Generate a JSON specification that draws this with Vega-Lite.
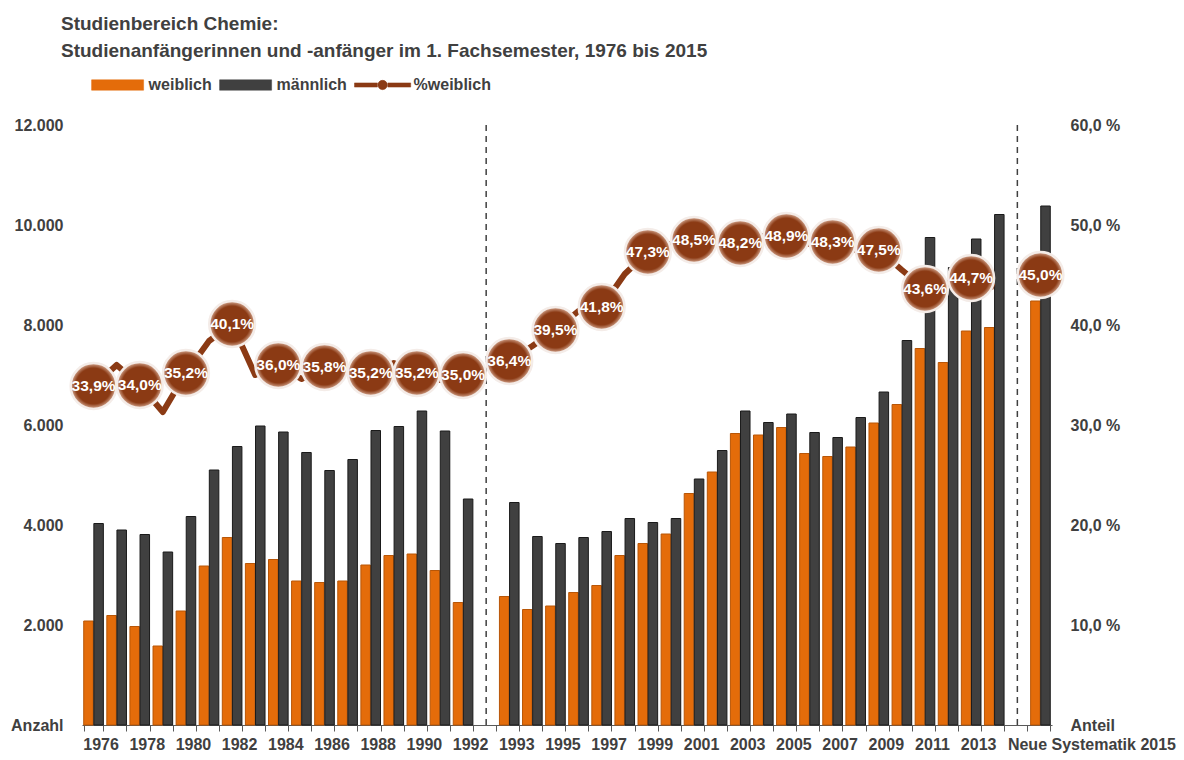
{
  "$schema": "https://vega.github.io/schema/vega-lite/v6.json",
  "width": 970,
  "height": 600,
  "autosize": "none",
  "padding": {"left": 82, "top": 125, "right": 132, "bottom": 35},
  "background": "white",
  "config": {
    "locale": {"number": {"decimal": ",", "thousands": ".", "grouping": [3], "currency": ["", " €"]}},
    "view": {"stroke": null},
    "axis": {"labelFont": "Liberation Sans", "labelFontSize": 16, "labelFontWeight": "bold", "labelColor": "#404040", "grid": false, "title": null}
  },
  "title": {
    "text": ["Studienbereich Chemie:", "Studienanfängerinnen und -anfänger im 1. Fachsemester, 1976 bis 2015"],
    "anchor": "start",
    "frame": "group",
    "font": "Liberation Sans",
    "fontSize": 19,
    "fontWeight": "bold",
    "color": "#404040",
    "lineHeight": 27,
    "dx": -21,
    "offset": 13
  },
  "data": {
    "values": [
      {"year": "1976", "weiblich": 2080, "männlich": 4030, "pct": 0.339, "phase": 1},
      {"year": "1977", "weiblich": 2190, "männlich": 3900, "pct": 0.360, "phase": 1},
      {"year": "1978", "weiblich": 1970, "männlich": 3810, "pct": 0.340, "phase": 1},
      {"year": "1979", "weiblich": 1580, "männlich": 3460, "pct": 0.313, "phase": 1},
      {"year": "1980", "weiblich": 2280, "männlich": 4170, "pct": 0.352, "phase": 1},
      {"year": "1981", "weiblich": 3180, "männlich": 5100, "pct": 0.384, "phase": 1},
      {"year": "1982", "weiblich": 3750, "männlich": 5570, "pct": 0.401, "phase": 1},
      {"year": "1983", "weiblich": 3230, "männlich": 5980, "pct": 0.350, "phase": 1},
      {"year": "1984", "weiblich": 3310, "männlich": 5860, "pct": 0.360, "phase": 1},
      {"year": "1985", "weiblich": 2880, "männlich": 5450, "pct": 0.346, "phase": 1},
      {"year": "1986", "weiblich": 2850, "männlich": 5090, "pct": 0.358, "phase": 1},
      {"year": "1987", "weiblich": 2880, "männlich": 5310, "pct": 0.352, "phase": 1},
      {"year": "1988", "weiblich": 3200, "männlich": 5890, "pct": 0.352, "phase": 1},
      {"year": "1989", "weiblich": 3390, "männlich": 5970, "pct": 0.362, "phase": 1},
      {"year": "1990", "weiblich": 3420, "männlich": 6280, "pct": 0.352, "phase": 1},
      {"year": "1991", "weiblich": 3090, "männlich": 5880, "pct": 0.345, "phase": 1},
      {"year": "1992", "weiblich": 2450, "männlich": 4520, "pct": 0.350, "phase": 1},
      {"year": "1993", "weiblich": 2570, "männlich": 4450, "pct": 0.364, "phase": 2},
      {"year": "1994", "weiblich": 2310, "männlich": 3770, "pct": 0.379, "phase": 2},
      {"year": "1995", "weiblich": 2380, "männlich": 3630, "pct": 0.395, "phase": 2},
      {"year": "1996", "weiblich": 2650, "männlich": 3750, "pct": 0.414, "phase": 2},
      {"year": "1997", "weiblich": 2790, "männlich": 3870, "pct": 0.418, "phase": 2},
      {"year": "1998", "weiblich": 3390, "männlich": 4130, "pct": 0.451, "phase": 2},
      {"year": "1999", "weiblich": 3630, "männlich": 4050, "pct": 0.473, "phase": 2},
      {"year": "2000", "weiblich": 3820, "männlich": 4130, "pct": 0.481, "phase": 2},
      {"year": "2001", "weiblich": 4630, "männlich": 4920, "pct": 0.485, "phase": 2},
      {"year": "2002", "weiblich": 5060, "männlich": 5490, "pct": 0.480, "phase": 2},
      {"year": "2003", "weiblich": 5830, "männlich": 6280, "pct": 0.482, "phase": 2},
      {"year": "2004", "weiblich": 5800, "männlich": 6050, "pct": 0.489, "phase": 2},
      {"year": "2005", "weiblich": 5950, "männlich": 6220, "pct": 0.489, "phase": 2},
      {"year": "2006", "weiblich": 5430, "männlich": 5850, "pct": 0.481, "phase": 2},
      {"year": "2007", "weiblich": 5370, "männlich": 5750, "pct": 0.483, "phase": 2},
      {"year": "2008", "weiblich": 5560, "männlich": 6150, "pct": 0.475, "phase": 2},
      {"year": "2009", "weiblich": 6040, "männlich": 6660, "pct": 0.475, "phase": 2},
      {"year": "2010", "weiblich": 6410, "männlich": 7690, "pct": 0.455, "phase": 2},
      {"year": "2011", "weiblich": 7530, "männlich": 9750, "pct": 0.436, "phase": 2},
      {"year": "2012", "weiblich": 7250, "männlich": 9150, "pct": 0.442, "phase": 2},
      {"year": "2013", "weiblich": 7880, "männlich": 9720, "pct": 0.447, "phase": 2},
      {"year": "2014", "weiblich": 7950, "männlich": 10210, "pct": 0.438, "phase": 2},
      {"year": "2015", "weiblich": 8480, "männlich": 10380, "pct": 0.450, "phase": 3}
    ]
  },
  "encoding": {
    "x": {
      "field": "year",
      "type": "nominal",
      "scale": {
        "domain": ["1976","1977","1978","1979","1980","1981","1982","1983","1984","1985","1986","1987","1988","1989","1990","1991","1992","g1","1993","1994","1995","1996","1997","1998","1999","2000","2001","2002","2003","2004","2005","2006","2007","2008","2009","2010","2011","2012","2013","2014","g2","2015"],
        "paddingInner": 0.15,
        "paddingOuter": 0.075
      },
      "axis": {
        "labelAngle": 0,
        "labelOverlap": false,
        "labelBound": false,
        "tickBand": "extent",
        "tickSize": 6,
        "tickColor": "#595959",
        "domainColor": "#595959",
        "labelPadding": 5,
        "labelExpr": "datum.value == '2015' ? 'Neue Systematik 2015' : (datum.value == 'g1' || datum.value == 'g2') ? '' : ((toNumber(datum.value) <= 1992) == (toNumber(datum.value) % 2 == 0)) ? datum.value : ''",
        "labelOffset": {"condition": {"test": "datum.value == '2015'", "value": 51}, "value": 7}
      }
    }
  },
  "layer": [
    {
      "transform": [{"fold": ["weiblich", "männlich"], "as": ["gender", "count"]}],
      "mark": {"type": "bar", "strokeWidth": 1},
      "encoding": {
        "xOffset": {"field": "gender", "type": "nominal", "scale": {"domain": ["weiblich", "männlich"], "paddingInner": 0.06}},
        "y": {
          "field": "count",
          "type": "quantitative",
          "scale": {"domain": [0, 12000], "nice": false},
          "axis": {
            "orient": "left",
            "values": [0, 2000, 4000, 6000, 8000, 10000, 12000],
            "format": ",d",
            "labelExpr": "datum.value == 0 ? 'Anzahl' : datum.label",
            "domain": false,
            "ticks": false,
            "labelPadding": 19
          }
        },
        "color": {
          "field": "gender",
          "type": "nominal",
          "scale": {"domain": ["weiblich", "männlich", "%weiblich"], "range": ["#E46C0A", "#404040", "#8B3A14"]},
          "legend": {
            "orient": "none",
            "legendX": 24.6,
            "legendY": -51,
            "direction": "horizontal",
            "title": null,
            "padding": 0,
            "symbolSize": 433,
            "labelFont": "Liberation Sans",
            "labelFontSize": 16,
            "labelFontWeight": "bold",
            "labelColor": "#404040",
            "labelOffset": 20,
            "columnPadding": 5,
            "encode": {
              "symbols": {
                "update": {
                  "shape": {"signal": "datum.value === '%weiblich' ? 'M-2.7,-0.2H-0.5V0.2H-2.7Z M0.5,-0.2H2.7V0.2H0.5Z M0.45,0A0.45,0.45 0 1,1 -0.45,0A0.45,0.45 0 1,1 0.45,0Z' : 'M-2.5,-0.5H2.5V0.5H-2.5Z'"},
                  "fill": {"scale": "color", "field": "value"},
                  "stroke": {"value": "#333333"},
                  "strokeWidth": {"value": 0.5}
                }
              }
            }
          }
        },
        "stroke": {
          "field": "gender",
          "type": "nominal",
          "scale": {"domain": ["weiblich", "männlich"], "range": ["#B85607", "#1A1A1A"]},
          "legend": null
        }
      }
    },
    {
      "data": {"values": [{"year": "g1"}, {"year": "g2"}]},
      "mark": {"type": "rule", "strokeDash": [6, 5], "color": "#404040", "strokeWidth": 1.5},
      "encoding": {}
    },
    {
      "mark": {"type": "line", "strokeWidth": 6, "strokeJoin": "round"},
      "encoding": {
        "y": {
          "field": "pct",
          "type": "quantitative",
          "scale": {"domain": [0, 0.6], "nice": false},
          "axis": {
            "orient": "right",
            "values": [0, 0.1, 0.2, 0.3, 0.4, 0.5, 0.6],
            "format": ".1%",
            "labelExpr": "datum.value == 0 ? 'Anteil' : replace(datum.label, '%', ' %')",
            "domain": false,
            "ticks": false,
            "labelPadding": 18
          }
        },
        "detail": {"field": "phase"},
        "color": {"datum": "%weiblich", "type": "nominal"}
      }
    },
    {
      "transform": [{"filter": "((toNumber(datum.year) <= 1992) == (toNumber(datum.year) % 2 == 0))"}],
      "mark": {
        "type": "point",
        "shape": "circle",
        "filled": true,
        "size": 2100,
        "opacity": 1,
        "fill": {"gradient": "radial", "x1": 0.5, "y1": 0.5, "r1": 0, "x2": 0.5, "y2": 0.5, "r2": 0.5, "stops": [{"offset": 0, "color": "#8B3A14"}, {"offset": 0.78, "color": "#8B3A14"}, {"offset": 1, "color": "#D9AE98"}]},
        "stroke": "#F4ECE8",
        "strokeWidth": 2.5
      },
      "encoding": {
        "y": {"field": "pct", "type": "quantitative", "scale": {"domain": [0, 0.6], "nice": false}, "axis": null}
      }
    },
    {
      "transform": [{"filter": "((toNumber(datum.year) <= 1992) == (toNumber(datum.year) % 2 == 0))"}],
      "mark": {"type": "text", "font": "Liberation Sans", "fontSize": 15.5, "fontWeight": "bold", "color": "white", "baseline": "middle", "align": "center"},
      "encoding": {
        "y": {"field": "pct", "type": "quantitative", "scale": {"domain": [0, 0.6], "nice": false}, "axis": null},
        "text": {"field": "pct", "type": "quantitative", "format": ".1%"}
      }
    }
  ],
  "resolve": {"scale": {"y": "independent"}, "axis": {"y": "independent"}}
}
